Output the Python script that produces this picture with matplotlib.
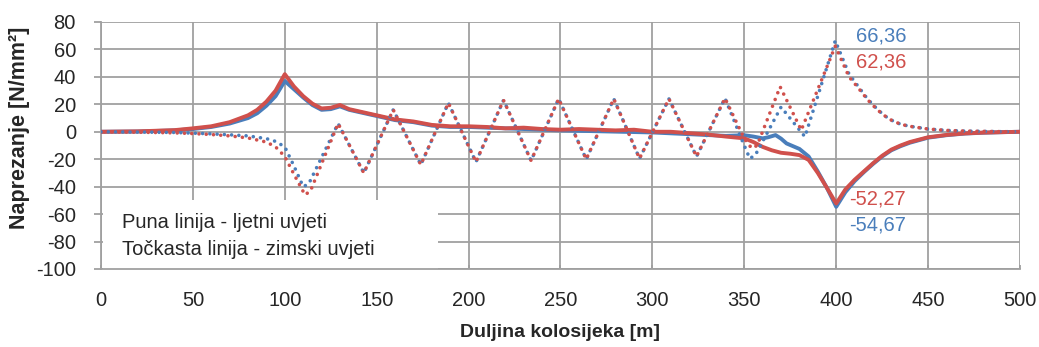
import matplotlib
matplotlib.use('Agg')
import matplotlib.pyplot as plt
from matplotlib.patches import Rectangle

plt.rcParams['axes.unicode_minus'] = False

# puna linija - ljetni uvjeti
x_summer_red = [0, 20, 40, 50, 60, 70, 80, 85, 90, 95, 100, 105, 110, 115, 120, 125, 130, 135, 140,
                150, 160, 170, 180, 190, 200, 210, 220, 230, 240, 250, 260, 270, 280, 290, 300,
                310, 320, 330, 340, 350, 355, 360, 365, 370, 375, 380, 385, 390, 395, 400,
                405, 410, 415, 420, 425, 430, 435, 440, 450, 460, 470, 480, 490, 500]
y_summer_red = [0, 0.3, 1.2, 2.5, 4, 7, 12, 16, 22, 30, 42, 33, 26, 20.5, 17, 17.5, 19.5, 16.5, 15,
                12, 9, 7.5, 5, 4, 4, 3.5, 2.5, 3, 2, 1.5, 2, 1.5, 1, 1.5, 0,
                0, -1, -2, -3.5, -4.8, -7.5, -11, -13.5, -15.3, -16, -17, -20.5, -30, -41, -52.27,
                -42, -35, -29, -23, -17.5, -13, -10, -7.5, -4, -2.3, -1.2, -0.6, -0.3, 0]

x_summer_blue = [0, 20, 40, 50, 60, 70, 80, 85, 90, 95, 100, 105, 110, 115, 120, 125, 130, 135, 140,
                 150, 160, 170, 180, 190, 200, 250, 300, 340, 350, 355, 360, 363, 367, 370, 373,
                 380, 385, 390, 395, 400, 405, 410, 415, 420, 425, 430, 435, 440, 450, 460, 470,
                 480, 490, 500]
y_summer_blue = [0, 0.2, 1, 2, 3.5, 6, 10, 13.5, 19, 26, 37, 31, 25, 19.5, 16, 16.5, 18.5, 16, 14.5,
                 11.5, 8.5, 7, 4.5, 3.5, 3.5, 1, -0.5, -3, -2.5, -3.5, -4.8, -4, -2.4, -5, -8.5,
                 -12.5, -18, -29, -41, -54.67, -44, -36, -29.5, -23.5, -18, -13.5, -10.5, -8, -4.3,
                 -2.5, -1.3, -0.7, -0.3, 0]

# tockasta linija - zimski uvjeti
x_winter_blue = [0, 20, 40, 50, 60, 70, 80, 90, 95, 100, 105, 110, 113, 129, 143, 159, 174, 189, 204,
                 219, 234, 249, 264, 279, 293, 309, 324, 339.5, 349.5, 353, 356, 370, 383, 399.5,
                 407, 412, 417, 422, 426, 430, 435, 440, 450, 460, 470, 480, 490, 500]
y_winter_blue = [0, -0.2, -0.5, -1, -1.5, -2.2, -3, -5, -7, -11, -25, -40, -38, 6, -30, 16, -24, 21, -22,
                 23, -21, 24, -20, 24, -19.5, 24, -18, 24.4, -8.5, -19.5, -17, 18, -3.6, 66.36,
                 42, 33, 24, 17, 12, 8.5, 5.5, 4, 2, 1, 0.5, 0.3, 0.1, 0]

x_winter_red = [0, 20, 40, 50, 60, 70, 80, 90, 95, 100, 105, 111, 114, 129, 143, 159, 174, 189, 204,
                219, 234, 249, 264, 279, 293, 309, 324, 339.5, 350, 354, 357, 369.5, 381, 399.5,
                407, 412, 417, 422, 426, 430, 435, 440, 450, 460, 470, 480, 490, 500]
y_winter_red = [0, -0.3, -0.8, -1.3, -2, -3, -4.5, -7.5, -11, -18, -31, -46, -43, 6, -30, 16, -24, 21, -22,
                23, -21, 24, -20, 24, -19.5, 24, -18, 24.4, -5, -12, -10, 32.8, 1.2, 62.36,
                40, 32, 23.5, 16.5, 12, 8.5, 5.5, 4, 2, 1, 0.5, 0.3, 0.1, 0]

blue = '#4a7ebb'
red = '#d0504c'
grid_c = '#a0a0a0'
txt_c = '#262626'

fig = plt.figure(figsize=(10.39, 3.47), dpi=100)
ax = fig.add_axes([0.0972, 0.2248, 0.8845, 0.7118])

ax.plot(x_summer_blue, y_summer_blue, color=blue, lw=2.8, zorder=3, solid_joinstyle='round')
ax.plot(x_summer_red, y_summer_red, color=red, lw=2.8, zorder=3.1, solid_joinstyle='round')
ax.plot(x_winter_blue, y_winter_blue, color=blue, lw=2.6, ls=(0, (0.01, 2.0)),
        dash_capstyle='round', zorder=3.2)
ax.plot(x_winter_red, y_winter_red, color=red, lw=2.6, ls=(1.0, (0.01, 2.0)),
        dash_capstyle='round', zorder=3.2)

ax.set_xlim(0, 500)
ax.set_ylim(-100, 80)
ax.set_xticks(range(0, 501, 50))
ax.set_yticks(range(-100, 81, 20))
ax.grid(True, color=grid_c, lw=1.3, zorder=0)
ax.set_axisbelow(True)
for s in ['top', 'right']:
    ax.spines[s].set_visible(False)
for s in ['left', 'bottom']:
    ax.spines[s].set_color(grid_c)
    ax.spines[s].set_linewidth(1.3)

ax.tick_params(axis='y', direction='out', length=5, width=1.3, color=grid_c, pad=13,
               labelsize=14.5, labelcolor=txt_c)
ax.tick_params(axis='x', direction='in', length=3, width=1.3, color=grid_c, pad=16,
               labelsize=14.5, labelcolor=txt_c)
for lab in ax.get_xticklabels() + ax.get_yticklabels():
    lab.set_family('Liberation Sans')

ax.set_xlabel('Duljina kolosijeka [m]', fontsize=14, fontweight='bold',
              family=['Liberation Sans Narrow', 'Liberation Sans'], color=txt_c, labelpad=10)
ax.set_ylabel('Naprezanje [N/mm²]', fontsize=15.5, fontweight='bold',
              family=['Liberation Sans Narrow', 'Liberation Sans'], color=txt_c)
ax.yaxis.set_label_coords(-0.077, 0.57)

# bijeli okvir s opisom linija
ax.add_patch(Rectangle((0.002, 0.0), 0.365, 0.279, transform=ax.transAxes,
                       facecolor='white', edgecolor='none', zorder=2.5))
ax.text(0.023, 0.19, 'Puna linija - ljetni uvjeti', transform=ax.transAxes, fontsize=14.5,
        family='Liberation Sans', color=txt_c, va='center', zorder=4)
ax.text(0.023, 0.077, 'Točkasta linija - zimski uvjeti', transform=ax.transAxes, fontsize=14.5,
        family='Liberation Sans', color=txt_c, va='center', zorder=4)

# vrijednosti ekstrema
ax.text(411, 69.9, '66,36', color=blue, fontsize=14.5, family='Liberation Sans', va='center', zorder=4)
ax.text(411, 50.5, '62,36', color=red, fontsize=14.5, family='Liberation Sans', va='center', zorder=4)
ax.text(407, -49.3, '-52,27', color=red, fontsize=14.5, family='Liberation Sans', va='center', zorder=4)
ax.text(407, -68.1, '-54,67', color=blue, fontsize=14.5, family='Liberation Sans', va='center', zorder=4)

fig.savefig('out.png', dpi=100)
